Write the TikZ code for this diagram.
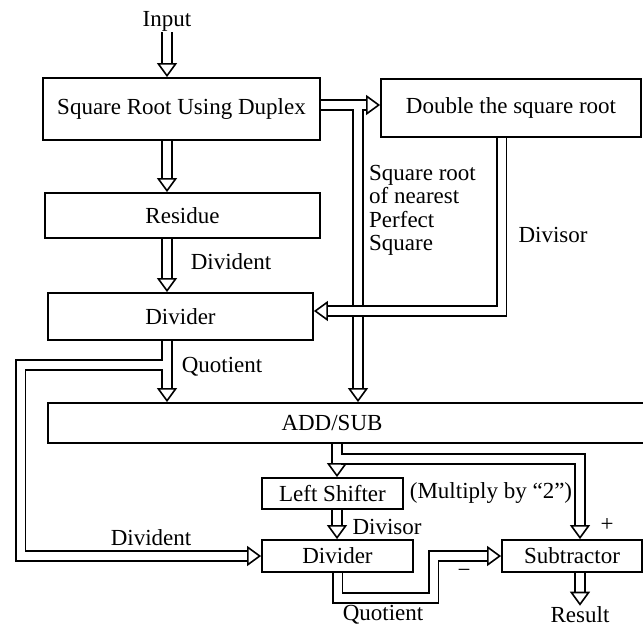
\documentclass[tikz,border=0pt]{standalone}
\usepackage{fontspec}
\setmainfont{Liberation Serif}
\usetikzlibrary{arrows.meta,calc}

\begin{document}
\begin{tikzpicture}[
  x=1pt, y=-1pt,
  font=\fontsize{23}{23.5}\selectfont,
  blk/.style 2 args={draw=black, line width=1.8pt, inner sep=0pt, minimum width=#1, minimum height=#2},
  lbl/.style={inner sep=1pt},
  pipe/.style={draw=black, double=white, double distance=8pt, line width=1.6pt,
               -{Triangle[open, width=20pt, length=14pt, line width=1.6pt]}}
]
\useasboundingbox[fill=white] (0,0) rectangle (643,627);
\node[lbl] (inp) at (167,21) {Input};
\node[blk={277pt}{62pt}] (sqr) at (181.5,109) {Square Root Using Duplex};
\node[blk={260pt}{58pt}] (dbl) at (511,108) {Double the square root};
\node[blk={275pt}{45pt}] (res) at (182.5,215.5) {Residue};
\node[blk={265pt}{47pt}] (div1) at (180.5,316.5) {Divider};
\node[blk={596pt}{40pt}] (add) at (346,423) {ADD/SUB\hspace*{28pt}};
\node[blk={141pt}{31pt}] (lsh) at (332.5,493.5) {Left Shifter};
\node[blk={151pt}{32pt}] (div2) at (337.5,556) {Divider};
\node[blk={140pt}{32pt}] (sub) at (572,556) {Subtractor};
\node[lbl] (dvd1) at (231,262) {Divident};
\node[lbl, anchor=north west, align=left, inner sep=0pt] (sqlbl) at (369,165) {Square root\\of nearest\\Perfect\\Square};
\node[lbl] (dvs1) at (553,235) {Divisor};
\node[lbl] (quo1) at (222,367) {Quotient};
\node[lbl] (dvd2) at (151,538) {Divident};
\node[lbl] (mul) at (491,493) {(Multiply by “2”)};
\node[lbl] (dvs2) at (387,527) {Divisor};
\node[lbl] (plus) at (607,525) {+};
\node[lbl] (minus) at (464,573) {−};
\node[lbl] (quo2) at (383,615) {Quotient};
\node[lbl] (out) at (580,615) {Result};
\coordinate (tap) at (358,105);
\coordinate (tapd) at (358,109);
\coordinate (dv) at (501.5,311);
\coordinate (qtap) at (163,365);
\coordinate (qcor) at (20.5,556);
\coordinate (col) at (337,459);
\coordinate (ptap) at (341,459);
\coordinate (pcol) at (580,459);
\coordinate (qb) at (433.5,598);
\draw[pipe] (inp.south) -- (inp.south |- sqr.north);
\draw[pipe] (inp |- sqr.south) -- (inp |- res.north);
\draw[pipe] (inp |- res.south) -- (inp |- div1.north);
\draw[pipe] (sqr.east |- tap) -- (dbl.west |- tap);
\draw[pipe] (tapd) -- (tapd |- add.north);
\draw[pipe] (dv |- dbl.south) |- (div1.east |- dv);
\draw[pipe] (inp |- div1.south) -- (inp |- add.north);
\draw[pipe] (qtap) -| (qcor) -- (div2.west);
\draw[pipe] (col |- add.south) -- (col |- lsh.north);
\draw[pipe] (ptap) -| (pcol |- sub.north);
\draw[pipe] (col |- lsh.south) -- (col |- div2.north);
\draw[pipe] (div2.south) |- (qb) |- (sub.west);
\draw[pipe] (pcol |- sub.south) -- (pcol |- out.north);
\end{tikzpicture}
\end{document}
